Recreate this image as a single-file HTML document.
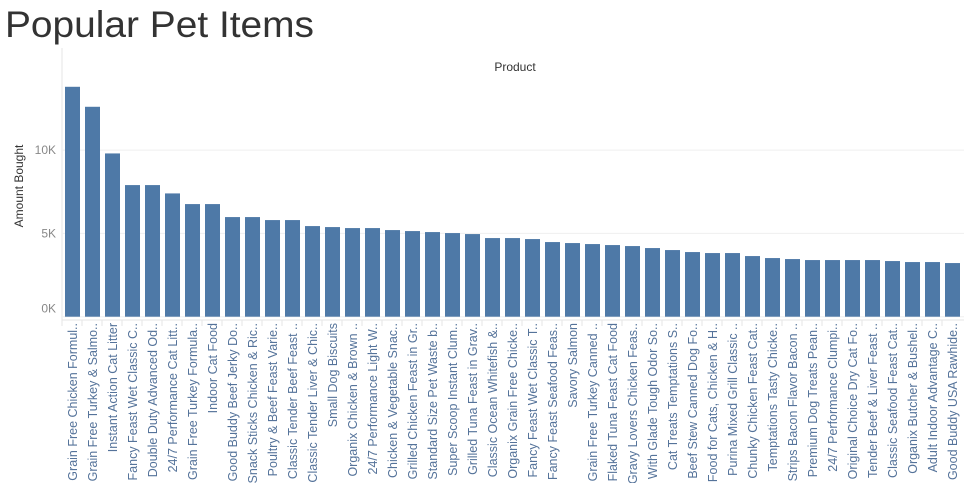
<!DOCTYPE html>
<html><head><meta charset="utf-8"><style>
body{margin:0;background:#fff;width:964px;height:483px;overflow:hidden;font-family:"Liberation Sans",sans-serif}
</style></head><body>
<svg id="c" width="964" height="483" xmlns="http://www.w3.org/2000/svg">
<text x="5" y="37" font-size="37" fill="#333" textLength="309" lengthAdjust="spacingAndGlyphs">Popular Pet Items</text>
<text x="515" y="71" font-size="12" fill="#333" text-anchor="middle">Product</text>
<text transform="translate(23,186) rotate(-90)" font-size="12" fill="#333" text-anchor="middle">Amount Bought</text>
<g id="g"></g>
</svg>
<script>
const categories=["Grain Free Chicken Formul..","Grain Free Turkey & Salmo..","Instant Action Cat Litter","Fancy Feast Wet Classic C..","Double Duty Advanced Od..","24/7 Performance Cat Litt..","Grain Free Turkey Formula..","Indoor Cat Food","Good Buddy Beef Jerky Do..","Snack Sticks Chicken & Ric..","Poultry & Beef Feast Varie..","Classic Tender Beef Feast ..","Classic Tender Liver & Chic..","Small Dog Biscuits","Organix Chicken & Brown ..","24/7 Performance Light W..","Chicken & Vegetable Snac..","Grilled Chicken Feast in Gr..","Standard Size Pet Waste b..","Super Scoop Instant Clum..","Grilled Tuna Feast in Grav..","Classic Ocean Whitefish &..","Organix Grain Free Chicke..","Fancy Feast Wet Classic T..","Fancy Feast Seafood Feas..","Savory Salmon","Grain Free Turkey Canned ..","Flaked Tuna Feast Cat Food","Gravy Lovers Chicken Feas..","With Glade Tough Odor So..","Cat Treats Temptations S..","Beef Stew Canned Dog Fo..","Food for Cats, Chicken & H..","Purina Mixed Grill Classic ..","Chunky Chicken Feast Cat..","Temptations Tasty Chicke..","Strips Bacon Flavor Bacon ..","Premium Dog Treats Pean..","24/7 Performance Clumpi..","Original Choice Dry Cat Fo..","Tender Beef & Liver Feast ..","Classic Seafood Feast Cat..","Organix Butcher & Bushel..","Adult Indoor Advantage C..","Good Buddy USA Rawhide.."];
const values=[13800,12600,9800,7900,7900,7400,6760,6760,5980,5980,5800,5800,5440,5380,5320,5320,5200,5140,5080,5020,4960,4720,4720,4660,4480,4420,4360,4300,4240,4120,4000,3880,3820,3820,3640,3520,3460,3400,3400,3400,3400,3340,3280,3280,3220];
const tickValues=[0,5000,10000];
const tickLabels=["0K","5K","10K"];
const NS="http://www.w3.org/2000/svg",g=document.getElementById("g");
const y0=316.7,pxPer=83.3/5000,x0=62,step=20;
const Y=v=>y0-v*pxPer, X=i=>x0+3+i*step;
function el(t,a){const e=document.createElementNS(NS,t);for(const k in a)e.setAttribute(k,a[k]);g.appendChild(e);return e;}
el("line",{x1:x0,y1:48,x2:x0,y2:322,stroke:"#e6e6e6"});
tickValues.forEach((v,i)=>{
 const l=el("line",{x1:x0,y1:Y(v),x2:964,y2:Y(v),stroke:"#efefef"});
 
 
 const t=el("text",{x:x0-6,y:Y(v)+(v===0?-4:4),"font-size":12,fill:"#888","text-anchor":"end"});
 t.textContent=tickLabels[i];
 
 
});
el("line",{x1:x0,y1:320,x2:964,y2:320,stroke:"#e6e6e6"});
categories.forEach((c,i)=>{
 const r=el("rect",{x:X(i),y:Y(values[i]),width:15,height:y0-Y(values[i]),fill:"#4e79a7"});
 
 
 el("line",{x1:x0+i*step,y1:320,x2:x0+i*step,y2:326,stroke:"#e6e6e6"});
 const cx=X(i)+7.5;
 const t=el("text",{transform:`translate(${cx+4.5},323) rotate(-90)`,"font-size":12.5,fill:"#55739a","text-anchor":"end"});
 t.textContent=c;
 
 
});
</script>
</body></html>
